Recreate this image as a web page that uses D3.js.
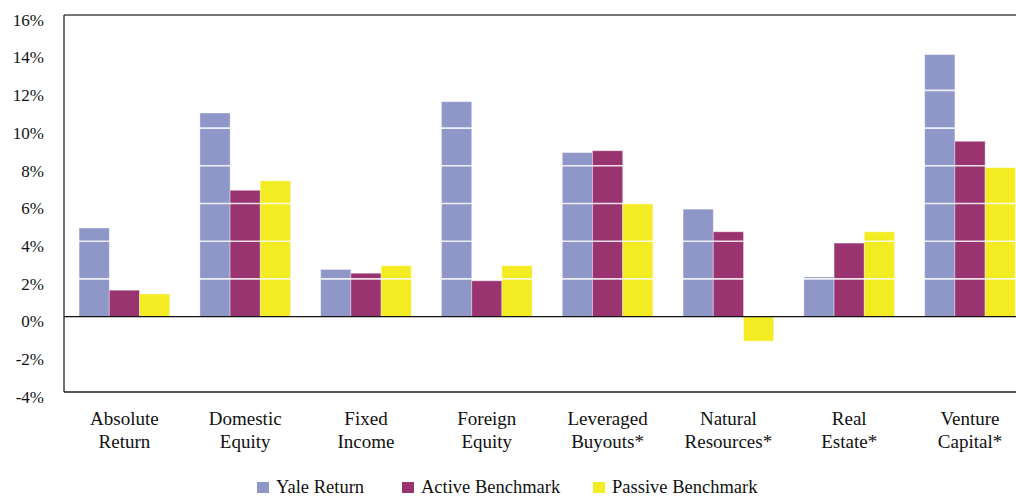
<!DOCTYPE html>
<html><head><meta charset="utf-8"><script src="https://cdn.jsdelivr.net/npm/d3@7"></script></head><body style="margin:0">
<svg id="c" width="1016" height="497" font-family="Liberation Serif"></svg>
<script>
const categories = [["Absolute","Return"],["Domestic","Equity"],["Fixed","Income"],["Foreign","Equity"],["Leveraged","Buyouts*"],["Natural","Resources*"],["Real","Estate*"],["Venture","Capital*"]];
const seriesNames = ["Yale Return","Active Benchmark","Passive Benchmark"];
const yaleReturn = [4.7, 10.8, 2.5, 11.4, 8.7, 5.7, 2.1, 13.9];
const activeBenchmark = [1.4, 6.7, 2.3, 1.9, 8.8, 4.5, 3.9, 9.3];
const passiveBenchmark = [1.2, 7.2, 2.7, 2.7, 6.0, -1.3, 4.5, 7.9];
const yTicks = [-4,-2,0,2,4,6,8,10,12,14,16];
const colors = ["#8f96c8","#993470","#f4ec22"];

(function(){
const FONT = "'Liberation Serif'";
const svg = d3.select("#c");
const pLeft = 64, pTop = 15, pBottom = 392, step = 120.8;
const pRight = pLeft + step*categories.length;
const y = d3.scaleLinear().domain([-4,16]).range([pBottom, pTop]);
const keys = categories.map(c => c.join(" "));
const x = d3.scaleBand().domain(keys).range([pLeft, pRight]).paddingInner(0.25).paddingOuter(0.125);
const xs = d3.scaleBand().domain(seriesNames).range([0, x.bandwidth()]);
const series = [yaleReturn, activeBenchmark, passiveBenchmark];

series.forEach((vals, si) => {
  svg.append("g").selectAll("rect").data(vals).join("rect")
    .attr("x", (d,i) => x(keys[i]) + xs(seriesNames[si]))
    .attr("width", xs.bandwidth())
    .attr("y", d => y(Math.max(0,d)))
    .attr("height", d => Math.abs(y(d) - y(0)))
    .attr("fill", colors[si])
    .attr("stroke", "rgba(255,255,255,0.35)").attr("stroke-width", 1);
});

svg.append("g").selectAll("line").data(yTicks.filter(t => t>0 && t<16)).join("line")
  .attr("x1", pLeft).attr("x2", pRight)
  .attr("y1", d => y(d)).attr("y2", d => y(d))
  .attr("stroke", "#fff").attr("stroke-width", 1.6).attr("stroke-opacity", 0.85);

svg.append("line").attr("x1", pLeft).attr("x2", pRight).attr("y1", pTop).attr("y2", pTop).attr("stroke", "#777").attr("stroke-width", 2);
svg.append("line").attr("x1", pLeft).attr("x2", pRight).attr("y1", pBottom).attr("y2", pBottom).attr("stroke", "#555").attr("stroke-width", 2);
svg.append("line").attr("x1", pLeft).attr("x2", pLeft).attr("y1", pTop).attr("y2", pBottom).attr("stroke", "#111").attr("stroke-width", 1.2);
svg.append("line").attr("x1", pLeft).attr("x2", pRight).attr("y1", y(0)).attr("y2", y(0)).attr("stroke", "#111").attr("stroke-width", 1.4);

const yAxis = d3.axisLeft(y).tickValues(yTicks).tickSize(0).tickPadding(20).tickFormat(d => d + "%");
const ga = svg.append("g").attr("transform", `translate(${pLeft},0)`).call(yAxis);
ga.select(".domain").remove();
ga.attr("font-family", "Liberation Serif");
ga.selectAll("text").attr("font-family", "Liberation Serif").style("font-family", FONT).attr("font-size", 17).attr("fill", "#111").attr("dy", "0.6em");

const xl = svg.append("g").selectAll("text").data(categories).join("text")
  .attr("font-family", "Liberation Serif").style("font-family", FONT).attr("fill", "#111")
  .attr("text-anchor", "middle").attr("font-size", 19);
xl.append("tspan").attr("y", 425).attr("x", (d,i) => x(keys[i]) + x.bandwidth()/2).text(d => d[0]);
xl.append("tspan").attr("y", 448).attr("x", (d,i) => x(keys[i]) + x.bandwidth()/2).text(d => d[1]);

const legX = [257, 402, 593];
const lg = svg.append("g").selectAll("g").data(seriesNames).join("g")
  .attr("transform", (d,i) => `translate(${legX[i]},482)`);
lg.append("rect").attr("width", 12).attr("height", 11).attr("fill", (d,i) => colors[i]);
lg.append("text").attr("x", 19).attr("y", 11).attr("font-family", "Liberation Serif").style("font-family", FONT).attr("fill", "#111").attr("font-size", 18.5).text(d => d);
})();
</script></body></html>
